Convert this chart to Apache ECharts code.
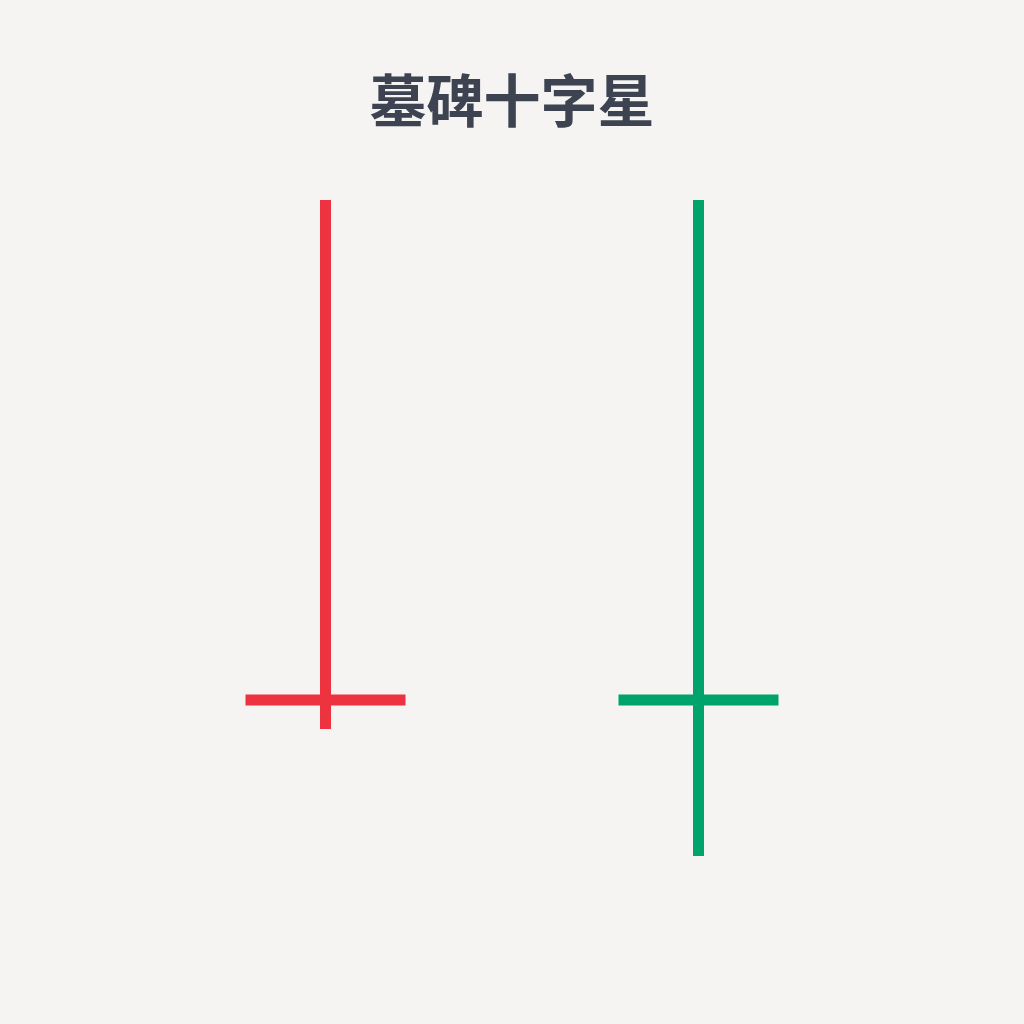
<!DOCTYPE html>
<html>
<head>
<meta charset="utf-8">
<script src="https://cdn.jsdelivr.net/npm/echarts@6/dist/echarts.min.js"></script>
<style>
html,body{margin:0;padding:0;background:#f5f4f2;}
#main{width:1024px;height:1024px;}
</style>
</head>
<body>
<div id="main"></div>
<script>
var categories = ['阴线墓碑十字星', '阳线墓碑十字星'];
var openValues = [50, 50];
var closeValues = [50, 50];
var highValues = [100, 100];
var lowValues = [47.1, 34.4];
var colors = ['#ee3340', '#00a36c'];

var chart = echarts.init(document.getElementById('main'));
var data = categories.map(function (c, i) {
  return [i, openValues[i], closeValues[i], lowValues[i], highValues[i]];
});
chart.setOption({
  backgroundColor: '#f5f4f2',
  animation: false,
  title: {
    text: '墓碑十字星',
    left: 'center',
    top: 67,
    textStyle: {
      fontFamily: 'Noto Sans CJK SC',
      fontSize: 57,
      fontWeight: 'bold',
      color: '#3d4350'
    }
  },
  grid: { left: 139, right: 139, top: 200, bottom: 124 },
  xAxis: { type: 'category', data: categories, show: false },
  yAxis: { type: 'value', min: 30, max: 100, show: false },
  series: [{
    type: 'custom',
    data: data,
    encode: { x: 0, y: [1, 2, 3, 4] },
    renderItem: function (params, api) {
      var idx = api.value(0);
      var oc = api.coord([idx, api.value(2)]);
      var lo = api.coord([idx, api.value(3)]);
      var hi = api.coord([idx, api.value(4)]);
      var color = colors[params.dataIndex];
      var w = 11, hw = 160;
      return {
        type: 'group',
        children: [
          { type: 'rect', shape: { x: hi[0] - w / 2, y: hi[1], width: w, height: lo[1] - hi[1] }, style: { fill: color } },
          { type: 'rect', shape: { x: oc[0] - hw / 2, y: oc[1] - w / 2, width: hw, height: w }, style: { fill: color } }
        ]
      };
    }
  }]
});
</script>
</body>
</html>
